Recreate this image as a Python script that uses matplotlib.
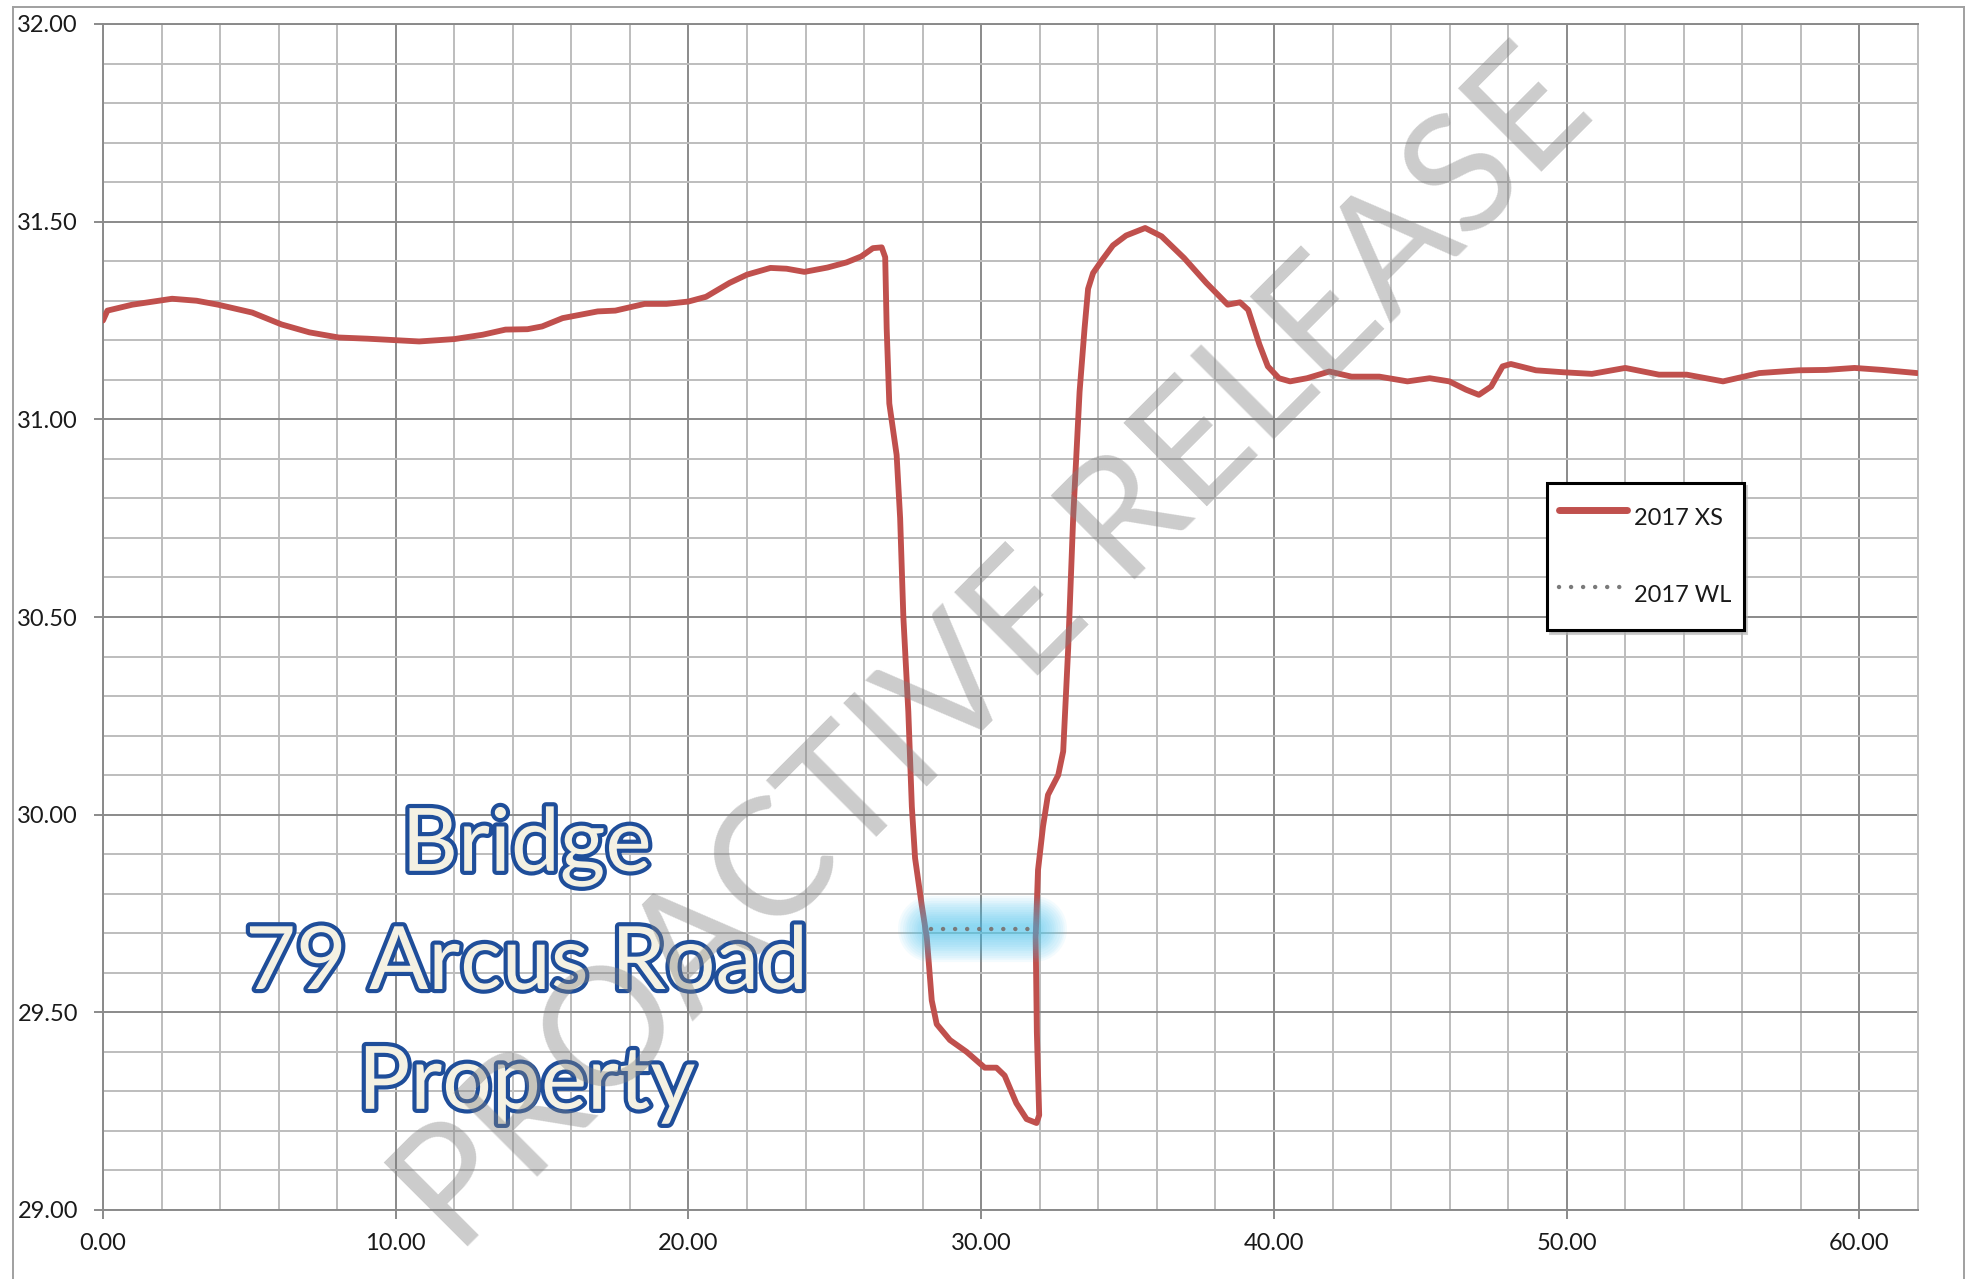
import matplotlib
matplotlib.use("Agg")
import matplotlib.pyplot as plt
import matplotlib.patheffects as pe
from matplotlib.lines import Line2D
from matplotlib.ticker import MultipleLocator, FormatStrFormatter

# 2017 cross section: chainage (m) vs bed level (m)
xs_chainage = [0.0, 0.15, 1.0, 2.36, 3.2, 3.93, 5.1, 6.1, 7.05, 8.05, 9.04, 10.8,
               12.0, 12.97, 13.75, 14.5, 15.0, 15.7, 16.9, 17.5, 18.5, 19.25, 20.0,
               20.6, 21.4, 22.0, 22.8, 23.35, 23.96, 24.75, 25.4, 25.9, 26.3, 26.6,
               26.72, 26.77, 26.86, 27.11, 27.23, 27.34, 27.51, 27.63, 27.74, 27.97,
               28.14, 28.31, 28.48, 28.93, 29.5, 30.12, 30.52, 30.8, 31.2, 31.55,
               31.89, 31.98, 31.9, 31.86, 31.94, 32.11, 32.28, 32.63, 32.8, 32.97,
               33.14, 33.36, 33.53, 33.65, 33.82, 34.1, 34.5, 34.95, 35.6, 36.16,
               36.93, 37.69, 38.42, 38.84, 39.12, 39.5, 39.79, 40.17, 40.55, 41.13,
               41.89, 42.65, 43.6, 44.56, 45.32, 45.99, 46.56, 47.0, 47.42, 47.81,
               48.09, 48.95, 49.9, 50.86, 52.0, 53.15, 54.1, 55.34, 56.58, 57.92,
               58.87, 59.83, 60.78, 61.97]
xs_level = [31.25, 31.275, 31.29, 31.305, 31.30, 31.29, 31.27, 31.24, 31.22, 31.207,
            31.204, 31.197, 31.203, 31.214, 31.227, 31.228, 31.235, 31.256, 31.273,
            31.275, 31.292, 31.292, 31.298, 31.31, 31.345, 31.366, 31.383, 31.381,
            31.373, 31.384, 31.397, 31.412, 31.433, 31.435, 31.41, 31.23, 31.04,
            30.91, 30.75, 30.50, 30.26, 30.02, 29.89, 29.77, 29.69, 29.53, 29.47,
            29.43, 29.40, 29.36, 29.36, 29.34, 29.27, 29.23, 29.22, 29.24, 29.45,
            29.69, 29.86, 29.97, 30.05, 30.10, 30.16, 30.42, 30.75, 31.07, 31.23,
            31.33, 31.37, 31.40, 31.44, 31.465, 31.484, 31.463, 31.408, 31.345,
            31.29, 31.296, 31.277, 31.19, 31.134, 31.104, 31.096, 31.104, 31.121,
            31.108, 31.108, 31.096, 31.104, 31.096, 31.075, 31.062, 31.083, 31.134,
            31.14, 31.124, 31.119, 31.115, 31.13, 31.113, 31.113, 31.096, 31.117,
            31.124, 31.125, 31.13, 31.125, 31.117]

# 2017 water level
wl_chainage = [28.3, 31.8]
wl_level = [29.71, 29.71]

note_lines = ["Bridge", "79 Arcus Road", "Property"]
watermark = "PROACTIVE RELEASE"

plt.rcParams['font.family'] = ['Lato', 'DejaVu Sans']

W, H = 1977, 1279
fig = plt.figure(figsize=(W / 100, H / 100), dpi=100)
fig.patch.set_facecolor('white')

major_c = '#8a8a8a'
minor_c = '#bdbdbd'
red = '#C0504D'

ax = fig.add_axes([103 / W, 1 - 1210 / H, 1815 / W, 1186 / H])
ax.set_xlim(0, 62)
ax.set_ylim(29, 32)
ax.xaxis.set_major_locator(MultipleLocator(10))
ax.xaxis.set_minor_locator(MultipleLocator(2))
ax.yaxis.set_major_locator(MultipleLocator(0.5))
ax.yaxis.set_minor_locator(MultipleLocator(0.1))
ax.xaxis.set_major_formatter(FormatStrFormatter('%.2f'))
ax.yaxis.set_major_formatter(FormatStrFormatter('%.2f'))
ax.grid(which='major', color=major_c, lw=1.4)
ax.grid(which='minor', color=minor_c, lw=1.4)
ax.set_axisbelow(True)
ax.tick_params(which='major', color=major_c, width=1.4, length=6.5,
               labelsize=17, labelcolor='#1a1a1a')
ax.tick_params(axis='x', which='major', pad=10)
ax.tick_params(axis='y', which='major', pad=11.5)
ax.tick_params(which='minor', length=0)
for side in ['left', 'bottom', 'top']:
    ax.spines[side].set_color(major_c)
    ax.spines[side].set_linewidth(1.4)
ax.spines['right'].set_color(minor_c)
ax.spines['right'].set_linewidth(1.4)

# cross section
ax.plot(xs_chainage, xs_level, color=red, lw=4.2, solid_joinstyle='round',
        solid_capstyle='round', label='2017 XS', zorder=3)

# soft glow behind the water level
for k in range(14):
    ax.plot(wl_chainage, wl_level, color='#3ec1f0', lw=6 + k * 3.2, alpha=0.06,
            solid_capstyle='round', zorder=4)
ax.plot(wl_chainage, wl_level, color='#7a7a7a', lw=3.2, linestyle=(0, (0.01, 2.7)),
        dash_capstyle='round', label='2017 WL', zorder=5)

# annotation text
for txt, lev in zip(note_lines, [29.858, 29.559, 29.256]):
    ax.text(14.47, lev, txt, ha='center', va='baseline', fontsize=63,
            color='#F4F1E3', zorder=2,
            path_effects=[pe.Stroke(linewidth=6, foreground='#1F4E9A'), pe.Normal()])

leg = ax.legend(loc='upper left', bbox_to_anchor=(0.7956, 0.613), borderaxespad=0,
                fontsize=17, handlelength=2.9, handletextpad=0.3, labelspacing=1.35,
                handleheight=2.6, borderpad=0.5, fancybox=False, framealpha=1,
                shadow={'color': '#b0b0b0', 'alpha': 0.6})
leg.get_frame().set_edgecolor('black')
leg.get_frame().set_linewidth(2.2)
leg.get_lines()[0].set_linewidth(5)
for t in leg.get_texts():
    t.set_color('#1a1a1a')

# page frame
fx0, fx1, fy1 = 13 / W, 1964 / W, 1 - 7 / H
for xs, ys in [([fx0, fx0], [0, fy1]), ([fx0, fx1], [fy1, fy1]), ([fx1, fx1], [fy1, 0])]:
    fig.add_artist(Line2D(xs, ys, transform=fig.transFigure, color='#a0a0a0', lw=1.4))

# watermark
fig.text(0.503, 0.49, watermark, rotation=45, ha='center', va='center',
         fontsize=118, color='#808080', alpha=0.4, zorder=10)

fig.savefig('out.png', dpi=100)
